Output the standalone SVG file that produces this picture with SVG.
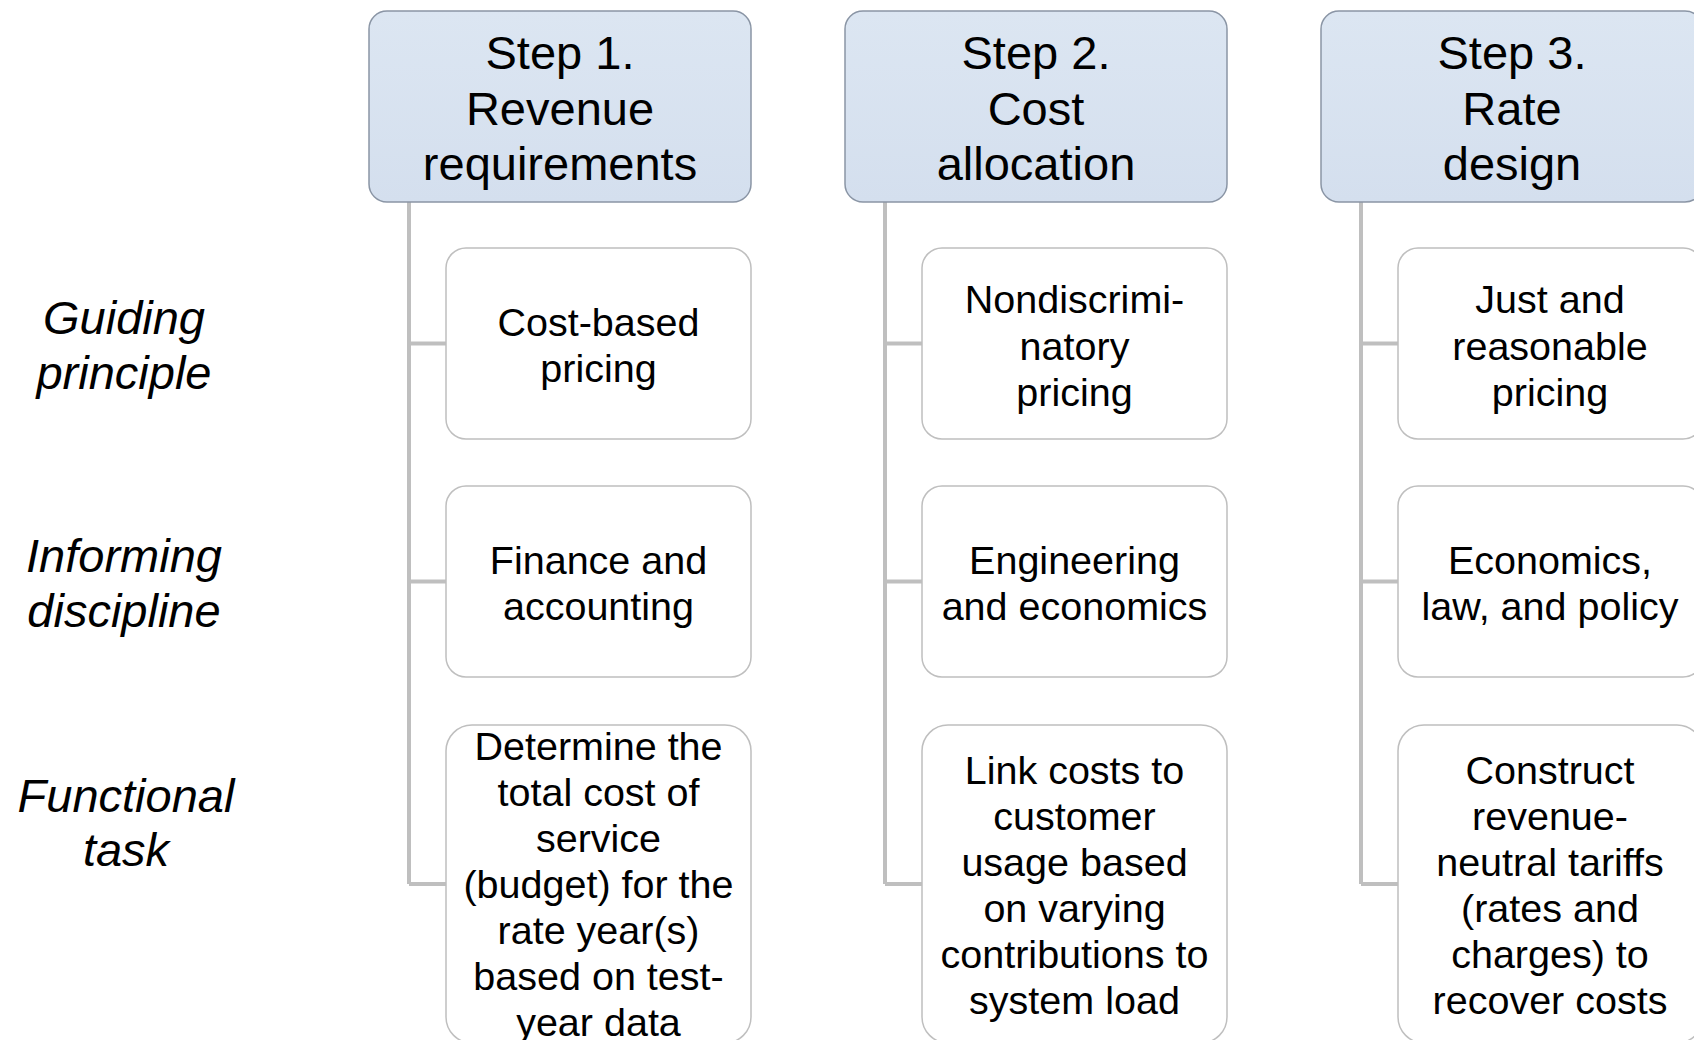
<svg xmlns="http://www.w3.org/2000/svg" width="1694" height="1040" viewBox="0 0 1694 1040">
<defs>
<linearGradient id="hg" x1="0" y1="0" x2="0" y2="1">
<stop offset="0" stop-color="#DCE6F2"/>
<stop offset="1" stop-color="#D4DFEE"/>
</linearGradient>
<style>
.hdr{fill:url(#hg);stroke:#8A95A5;stroke-width:1.5}
.box{fill:#FFFFFF;stroke:#BFBFBF;stroke-width:1.5}
.conn{fill:none;stroke:#BFBFBF;stroke-width:4}
text{font-family:"Liberation Sans",Arial,sans-serif;fill:#000;text-anchor:middle}
.ht{font-size:47px}
.ct{font-size:39.5px}
.lt{font-size:47px;font-style:italic}
</style>
</defs>
<rect width="1694" height="1040" fill="#FFFFFF"/>
<g id="connectors">
<path class="conn" d="M409,202 V884 M409,343.5 H446 M409,581.5 H446 M409,884 H446"/>
<path class="conn" d="M885,202 V884 M885,343.5 H922 M885,581.5 H922 M885,884 H922"/>
<path class="conn" d="M1361,202 V884 M1361,343.5 H1398 M1361,581.5 H1398 M1361,884 H1398"/>
</g>
<g id="label-guiding"><text class="lt" x="124" y="334">Guiding</text><text class="lt" x="124" y="389">principle</text></g>
<g id="label-informing"><text class="lt" x="124" y="572">Informing</text><text class="lt" x="124" y="627">discipline</text></g>
<g id="label-functional"><text class="lt" x="126" y="812">Functional</text><text class="lt" x="126" y="866">task</text></g>

<g id="step1"><rect class="hdr" x="369" y="11" width="382" height="191" rx="18"/>
<text class="ht" x="560" y="68.5">Step 1.</text><text class="ht" x="560" y="124.5">Revenue</text><text class="ht" x="560" y="180">requirements</text></g>
<g id="step2"><rect class="hdr" x="845" y="11" width="382" height="191" rx="18"/>
<text class="ht" x="1036" y="68.5">Step 2.</text><text class="ht" x="1036" y="124.5">Cost</text><text class="ht" x="1036" y="180">allocation</text></g>
<g id="step3"><rect class="hdr" x="1321" y="11" width="382" height="191" rx="18"/>
<text class="ht" x="1512" y="68.5">Step 3.</text><text class="ht" x="1512" y="124.5">Rate</text><text class="ht" x="1512" y="180">design</text></g>

<g id="c1r1"><rect class="box" x="446" y="248" width="305" height="191" rx="20"/>
<text class="ct" x="598.5" y="336">Cost-based</text><text class="ct" x="598.5" y="382">pricing</text></g>
<g id="c1r2"><rect class="box" x="446" y="486" width="305" height="191" rx="20"/>
<text class="ct" x="598.5" y="574">Finance and</text><text class="ct" x="598.5" y="620">accounting</text></g>
<g id="c1r3"><rect class="box" x="446" y="725" width="305" height="318" rx="26"/>
<text class="ct" x="598.5" y="760">Determine the</text><text class="ct" x="598.5" y="806">total cost of</text><text class="ct" x="598.5" y="852">service</text><text class="ct" x="598.5" y="898">(budget) for the</text><text class="ct" x="598.5" y="944">rate year(s)</text><text class="ct" x="598.5" y="990">based on test-</text><text class="ct" x="598.5" y="1036">year data</text></g>

<g id="c2r1"><rect class="box" x="922" y="248" width="305" height="191" rx="20"/>
<text class="ct" x="1074.5" y="313">Nondiscrimi-</text><text class="ct" x="1074.5" y="359.5">natory</text><text class="ct" x="1074.5" y="406">pricing</text></g>
<g id="c2r2"><rect class="box" x="922" y="486" width="305" height="191" rx="20"/>
<text class="ct" x="1074.5" y="574">Engineering</text><text class="ct" x="1074.5" y="620">and economics</text></g>
<g id="c2r3"><rect class="box" x="922" y="725" width="305" height="318" rx="26"/>
<text class="ct" x="1074.5" y="783.5">Link costs to</text><text class="ct" x="1074.5" y="829.5">customer</text><text class="ct" x="1074.5" y="875.5">usage based</text><text class="ct" x="1074.5" y="921.5">on varying</text><text class="ct" x="1074.5" y="967.5">contributions to</text><text class="ct" x="1074.5" y="1013.5">system load</text></g>

<g id="c3r1"><rect class="box" x="1398" y="248" width="305" height="191" rx="20"/>
<text class="ct" x="1550" y="313">Just and</text><text class="ct" x="1550" y="359.5">reasonable</text><text class="ct" x="1550" y="406">pricing</text></g>
<g id="c3r2"><rect class="box" x="1398" y="486" width="305" height="191" rx="20"/>
<text class="ct" x="1550" y="574">Economics,</text><text class="ct" x="1550" y="620">law, and policy</text></g>
<g id="c3r3"><rect class="box" x="1398" y="725" width="305" height="318" rx="26"/>
<text class="ct" x="1550" y="783.5">Construct</text><text class="ct" x="1550" y="829.5">revenue-</text><text class="ct" x="1550" y="875.5">neutral tariffs</text><text class="ct" x="1550" y="921.5">(rates and</text><text class="ct" x="1550" y="967.5">charges) to</text><text class="ct" x="1550" y="1013.5">recover costs</text></g>
</svg>
